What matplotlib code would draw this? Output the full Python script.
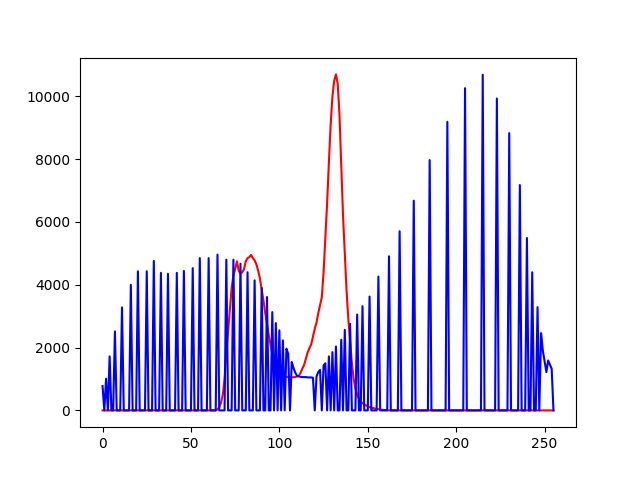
import matplotlib
matplotlib.use("Agg")
import matplotlib.pyplot as plt

# Red histogram (intensity 0..255)
red = [
    0, 0, 0, 0, 0, 0, 0, 0, 0, 0, 0, 0, 0, 0, 0, 0,
    0, 0, 0, 0, 0, 0, 0, 0, 0, 0, 0, 0, 0, 0, 0, 0,
    0, 0, 0, 0, 0, 0, 0, 0, 0, 0, 0, 0, 0, 0, 0, 0,
    0, 0, 0, 0, 0, 0, 0, 0, 0, 0, 0, 0, 0, 0, 0, 0,
    0, 30, 100, 250, 500, 1000, 1800, 2500, 3200, 3900, 4300, 4500, 4750, 4450, 4350, 4400,
    4500, 4750, 4850, 4880, 4950, 4850, 4780, 4650, 4450, 4200, 3850, 3500, 3100, 2750, 2400, 2100,
    1800, 1550, 1350, 1250, 1180, 1130, 1100, 1080, 1070, 1060, 1060, 1050, 1060, 1060, 1080, 1100,
    1200, 1330, 1450, 1650, 1850, 1980, 2100, 2350, 2600, 2800, 3100, 3350, 3600, 4400, 5500, 6600,
    7900, 9100, 10000, 10500, 10700, 10400, 9400, 7800, 6200, 5000, 3800, 2900, 2200, 1500, 1000, 700,
    500, 350, 280, 230, 190, 160, 130, 110, 90, 75, 60, 50, 40, 30, 20, 15,
    10, 5, 0, 0, 0, 0, 0, 0, 0, 0, 0, 0, 0, 0, 0, 0,
    0, 0, 0, 0, 0, 0, 0, 0, 0, 0, 0, 0, 0, 0, 0, 0,
    0, 0, 0, 0, 0, 0, 0, 0, 0, 0, 0, 0, 0, 0, 0, 0,
    0, 0, 0, 0, 0, 0, 0, 0, 0, 0, 0, 0, 0, 0, 0, 0,
    0, 0, 0, 0, 0, 0, 0, 0, 0, 0, 0, 0, 0, 0, 0, 0,
    0, 0, 0, 0, 0, 0, 0, 0, 0, 0, 0, 0, 0, 0, 0, 0,
]

# Blue histogram (intensity 0..255)
blue = [
    774, 0, 1010, 0, 1720, 0, 0, 2515, 0, 0, 0, 3280, 0, 0, 0, 0,
    4000, 0, 0, 0, 4430, 0, 0, 0, 0, 4430, 0, 0, 0, 4760, 0, 0,
    0, 4380, 0, 0, 0, 4350, 0, 0, 0, 0, 4380, 0, 0, 0, 4440, 0,
    0, 0, 0, 4530, 0, 0, 0, 4850, 0, 0, 0, 0, 4850, 0, 0, 0,
    0, 4960, 0, 0, 0, 0, 4800, 0, 0, 0, 4800, 0, 0, 0, 4670, 0,
    0, 0, 4400, 0, 0, 0, 4140, 0, 0, 0, 3900, 0, 0, 3610, 0, 0,
    3130, 0, 2780, 0, 2550, 0, 2230, 0, 1965, 1800, 0, 1540, 1350, 1200, 1100, 1080,
    1070, 1060, 1060, 1060, 1050, 1050, 1050, 1040, 0, 1080, 1220, 1290, 0, 1430, 1500, 0,
    1720, 0, 1855, 0, 2035, 0, 0, 2250, 0, 2565, 0, 0, 2756, 0, 0, 0,
    3053, 0, 0, 3318, 0, 0, 0, 3625, 0, 0, 0, 0, 4261, 0, 0, 0,
    0, 0, 4908, 0, 0, 0, 0, 0, 5703, 0, 0, 0, 0, 0, 0, 0,
    6678, 0, 0, 0, 0, 0, 0, 0, 0, 7971, 0, 0, 0, 0, 0, 0,
    0, 0, 0, 9190, 0, 0, 0, 0, 0, 0, 0, 0, 0, 10261, 0, 0,
    0, 0, 0, 0, 0, 0, 0, 10690, 0, 0, 0, 0, 0, 0, 0, 9932,
    0, 0, 0, 0, 0, 0, 8830, 0, 0, 0, 0, 0, 7176, 0, 0, 0,
    5491, 0, 0, 4399, 0, 0, 3286, 0, 2459, 1900, 1550, 1220, 1590, 1460, 1325, 0,
]

fig, ax = plt.subplots(figsize=(6.4, 4.8), dpi=100)
ax.plot(red, color="r")
ax.plot(blue, color="b")
fig.savefig("out.png")
